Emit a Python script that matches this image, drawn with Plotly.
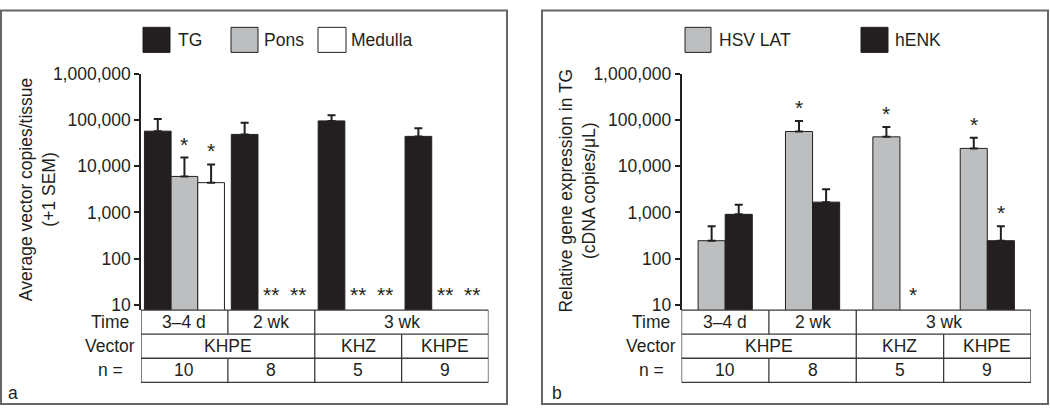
import math
import plotly.graph_objects as go

# ---------------- data ----------------
categories = ["3–4 d KHPE", "2 wk KHPE", "3 wk KHZ", "3 wk KHPE"]
time_labels = ["3–4 d", "2 wk", "3 wk"]
time_spans = [1, 1, 2]
vector_labels = ["KHPE", "KHZ", "KHPE"]
vector_spans = [2, 1, 1]
n_labels = ["10", "8", "5", "9"]

tick_vals = [10, 100, 1000, 10000, 100000, 1000000]
tick_text = ["10", "100", "1,000", "10,000", "100,000", "1,000,000"]

# panel a
tg = [57000, 48500, 95000, 44000]
tg_sem = [47000, 38000, 31000, 22000]
pons = [6000, None, None, None]
pons_sem = [9300, 0, 0, 0]
medulla = [4400, None, None, None]
medulla_sem = [6500, 0, 0, 0]
tg_sig = ["", "", "", ""]
pons_sig = ["*", "**", "**", "**"]
medulla_sig = ["*", "**", "**", "**"]

# panel b
lat = [245, 56000, 43000, 24200]
lat_sem = [260, 38000, 27400, 16800]
henk = [910, 1670, None, 245]
henk_sem = [560, 1490, 0, 260]
lat_sig = ["", "*", "*", "*"]
henk_sig = ["", "", "*", "*"]

# ---------------- style ----------------
W, H = 1050, 410
FONT = "Liberation Sans, Arial, sans-serif"
INK = "#231F20"
GREY = "#BCBEC0"
WHITE = "#FFFFFF"
FS = 17.5
Y_BOTTOM_LOG = 0.89
Y_TOP_LOG = 6.0
Y_TOP_PX, Y_BOT_PX = 66, 311.5


def py(px):
    return 1 - px / H


def px_x(px):
    return px / W


fig = go.Figure()

left_dom = [px_x(141), px_x(488.5)]
right_dom = [px_x(681.5), px_x(1031)]

panels = [
    dict(xa="x", ya="y", series=[("TG", tg, tg_sem, INK, tg_sig),
                                 ("Pons", pons, pons_sem, GREY, pons_sig),
                                 ("Medulla", medulla, medulla_sem, WHITE, medulla_sig)],
         width=0.307, start=-0.4605),
    dict(xa="x2", ya="y2", series=[("HSV LAT", lat, lat_sem, GREY, lat_sig),
                                   ("hENK", henk, henk_sem, INK, henk_sig)],
         width=0.31, start=-0.31),
]

annotations = []
shapes = []

for p in panels:
    w = p["width"]
    for j, (name, vals, sem, col, sig) in enumerate(p["series"]):
        off = p["start"] + j * w
        fig.add_trace(go.Bar(
            x=categories, y=vals, name=name, xaxis=p["xa"], yaxis=p["ya"],
            width=w, offset=off,
            marker=dict(color=col, line=dict(color=INK, width=1)),
            error_y=dict(type="data", array=sem, arrayminus=[0] * len(sem),
                         symmetric=False, color=INK, thickness=2, width=4),
            showlegend=False,
        ))
        # significance markers
        for i, s in enumerate(sig):
            if not s:
                continue
            xc = i + off + w / 2
            if vals[i] is None:
                yl = Y_BOTTOM_LOG
                ys = 2
            else:
                yl = math.log10(vals[i] + sem[i])
                ys = 0
            annotations.append(dict(
                x=xc, y=yl, xref=p["xa"], yref=p["ya"], text=s,
                showarrow=False, yanchor="bottom", yshift=ys,
                font=dict(family=FONT, size=21, color=INK)))

axis_y = dict(type="log", range=[Y_BOTTOM_LOG, Y_TOP_LOG],
              domain=[py(Y_BOT_PX), py(Y_TOP_PX)],
              tickvals=tick_vals, ticktext=tick_text,
              showline=True, linecolor=INK, linewidth=1.5,
              ticks="outside", ticklen=5, tickwidth=1.5, tickcolor=INK,
              showgrid=False, zeroline=False,
              tickfont=dict(family=FONT, size=FS, color=INK))
axis_x = dict(type="category", range=[-0.5, 3.5], showticklabels=False,
              showline=False, showgrid=False, zeroline=False, ticks="")

fig.update_layout(
    xaxis=dict(axis_x, domain=left_dom, anchor="y"),
    yaxis=dict(axis_y, anchor="x"),
    xaxis2=dict(axis_x, domain=right_dom, anchor="y2"),
    yaxis2=dict(axis_y, anchor="x2"),
)

# ---------------- tables under the axes ----------------
row_lines_px = [311.5, 336.5, 361.5, 386.5]
row_names = ["Time", "Vector", "n ="]
rows = [(time_labels, time_spans), (vector_labels, vector_spans),
        (n_labels, [1] * len(n_labels))]
LINE = dict(color="#3a3a3a", width=1.3)

for xa, label_px in (("x", 110), ("x2", 651)):
    for ypx in row_lines_px:
        shapes.append(dict(type="line", xref=xa, yref="paper",
                           x0=-0.5, x1=3.5, y0=py(ypx), y1=py(ypx), line=LINE))
    for r, (labels, spans) in enumerate(rows):
        y0, y1 = py(row_lines_px[r]), py(row_lines_px[r + 1])
        ym = (y0 + y1) / 2
        annotations.append(dict(x=px_x(label_px), y=ym, xref="paper", yref="paper",
                                text=row_names[r], showarrow=False,
                                xanchor="center", yanchor="middle",
                                font=dict(family=FONT, size=FS, color=INK)))
        pos = -0.5
        shapes.append(dict(type="line", xref=xa, yref="paper", x0=pos, x1=pos,
                           y0=y0, y1=y1, line=LINE))
        for lab, sp in zip(labels, spans):
            annotations.append(dict(x=pos + sp / 2, y=ym, xref=xa, yref="paper",
                                    text=lab, showarrow=False,
                                    xanchor="center", yanchor="middle",
                                    font=dict(family=FONT, size=FS, color=INK)))
            pos += sp
            shapes.append(dict(type="line", xref=xa, yref="paper", x0=pos, x1=pos,
                               y0=y0, y1=y1, line=LINE))

# ---------------- legends (drawn as swatches + text) ----------------
legend_items = [
    ("TG", INK, 143, 170, 176), ("Pons", GREY, 231, 258, 262),
    ("Medulla", WHITE, 318, 346, 349),
    ("HSV LAT", GREY, 685, 711, 717), ("hENK", INK, 861, 888, 893),
]
for name, col, x0, x1, xt in legend_items:
    shapes.append(dict(type="rect", xref="paper", yref="paper",
                       x0=px_x(x0), x1=px_x(x1), y0=py(44), y1=py(18),
                       fillcolor=col, line=dict(color=INK, width=1)))
    annotations.append(dict(x=px_x(xt), y=py(31), xref="paper", yref="paper",
                            text=name, showarrow=False, xanchor="left",
                            yanchor="middle",
                            font=dict(family=FONT, size=FS, color=INK)))

# ---------------- axis titles ----------------
annotations.append(dict(x=px_x(37), y=py(187), xref="paper", yref="paper",
                        text="Average vector copies/tissue<br>(+1 SEM)",
                        textangle=-90, showarrow=False,
                        xanchor="center", yanchor="middle",
                        font=dict(family=FONT, size=FS, color=INK)))
annotations.append(dict(x=px_x(577.5), y=py(188), xref="paper", yref="paper",
                        text="Relative gene expression in TG<br>(cDNA copies/μL)",
                        textangle=-90, showarrow=False,
                        xanchor="center", yanchor="middle",
                        font=dict(family=FONT, size=FS, color=INK)))

# panel letters
for letter, xl in (("a", 13), ("b", 557)):
    annotations.append(dict(x=px_x(xl), y=py(398), xref="paper", yref="paper",
                            text=letter, showarrow=False, xanchor="center",
                            yanchor="middle",
                            font=dict(family=FONT, size=FS, color=INK)))

# panel frames
for x0, x1 in ((1, 507), (542, 1048)):
    shapes.append(dict(type="rect", xref="paper", yref="paper",
                       x0=px_x(x0), x1=px_x(x1), y0=py(409), y1=py(0.5),
                       line=dict(color="#666666", width=2),
                       fillcolor="rgba(0,0,0,0)"))

fig.update_layout(
    width=W, height=H, autosize=False,
    margin=dict(l=0, r=0, t=0, b=0),
    paper_bgcolor="white", plot_bgcolor="white",
    barmode="overlay",
    showlegend=False,
    annotations=annotations, shapes=shapes,
    font=dict(family=FONT, size=FS, color=INK),
)

post = (
    "document.body.style.margin='0';"
    "document.body.style.overflow='hidden';"
    "var gd=document.getElementById('{plot_id}');"
    "Plotly.relayout(gd,{width:%d,height:%d});" % (W, H)
)
fig.write_html("out.html",
               config={"displayModeBar": False, "responsive": False},
               post_script=post)
